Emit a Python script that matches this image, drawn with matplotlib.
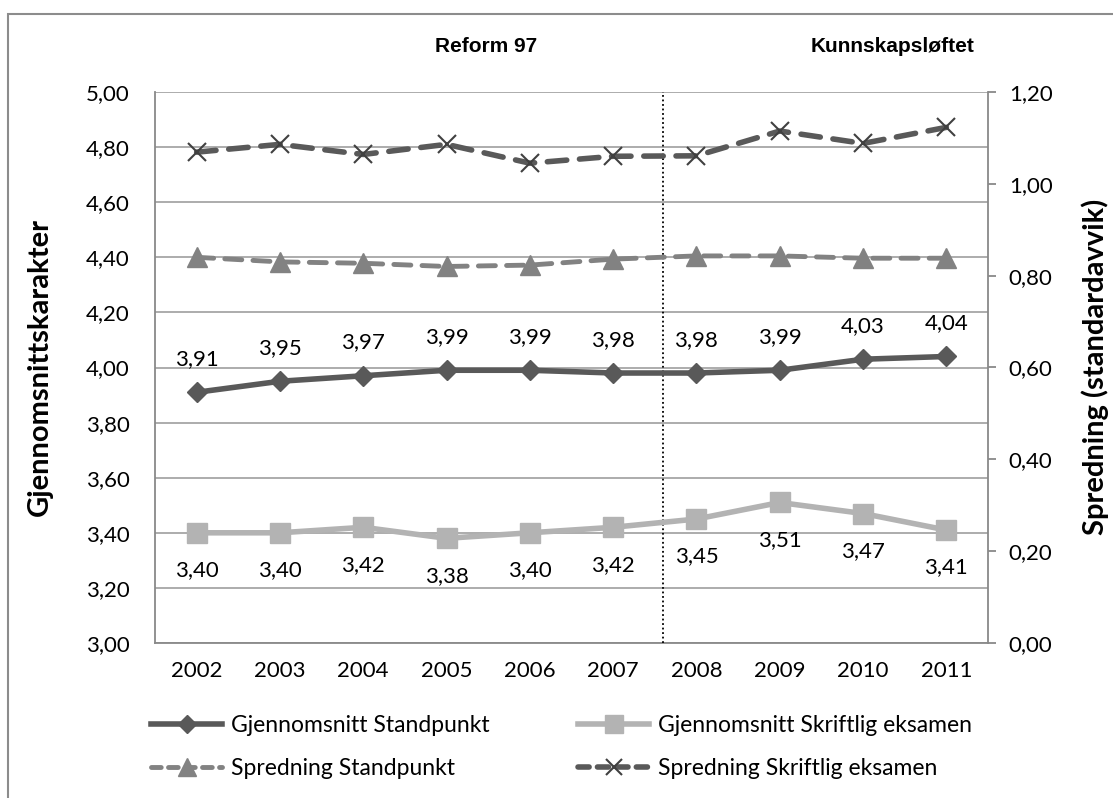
import matplotlib
matplotlib.use('Agg')
import matplotlib.pyplot as plt
from matplotlib.lines import Line2D
from matplotlib.patches import Rectangle
from matplotlib.ticker import FuncFormatter, MultipleLocator

# Data
years = ['2002', '2003', '2004', '2005', '2006', '2007', '2008', '2009', '2010', '2011']
snitt_standpunkt = [3.91, 3.95, 3.97, 3.99, 3.99, 3.98, 3.98, 3.99, 4.03, 4.04]
snitt_skriftlig = [3.40, 3.40, 3.42, 3.38, 3.40, 3.42, 3.45, 3.51, 3.47, 3.41]
spredning_standpunkt = [0.840, 0.830, 0.827, 0.820, 0.823, 0.836, 0.843, 0.843, 0.838, 0.838]
spredning_skriftlig = [1.069, 1.086, 1.064, 1.086, 1.045, 1.060, 1.061, 1.115, 1.088, 1.123]
reform_skille = 5.6  # dotted line between Reform 97 and Kunnskapsløftet

DARK = '#595959'
LIGHT = '#b3b3b3'
MID = '#828282'
GRID = '#a6a6a6'
AXIS = '#898989'
FONT = 'Lato'


def komma(v, pos):
    return f"{v:.2f}".replace('.', ',')


W, H = 1113, 798
fig = plt.figure(figsize=(W / 100, H / 100), dpi=100)
ax = fig.add_axes([155 / W, 1 - 643 / H, 833 / W, 551 / H])
ax2 = ax.twinx()

x = list(range(len(years)))

# Averages on the left axis
ax.plot(x, snitt_standpunkt, color=DARK, lw=4, marker='D', ms=10, zorder=4)
ax.plot(x, snitt_skriftlig, color=LIGHT, lw=4, marker='s', ms=14, zorder=4)

for xi, v in zip(x, snitt_standpunkt):
    ax.annotate(komma(v, None), (xi, v), xytext=(0, 24), textcoords='offset points',
                ha='center', va='center', fontsize=16, family=FONT, color='black')
for xi, v in zip(x, snitt_skriftlig):
    ax.annotate(komma(v, None), (xi, v), xytext=(0, -27), textcoords='offset points',
                ha='center', va='center', fontsize=16, family=FONT, color='black')

# Spread on the right axis
ax2.plot(x, spredning_standpunkt, color=MID, lw=3.5, ls=(0, (3.5, 2.3)),
         dash_capstyle='round', marker='^', ms=14, zorder=4)
ax2.plot(x, spredning_skriftlig, color=DARK, lw=4, ls=(0, (3.5, 2.3)),
         dash_capstyle='round', marker='x', ms=13, mew=1.5, mec='#404040', zorder=4)

ax.axvline(reform_skille, color='black', ls=(0, (1, 1.5)), lw=1.3, zorder=3)

ax.set_xlim(-0.5, len(years) - 0.5)
ax.set_ylim(3.0, 5.0)
ax2.set_ylim(0.0, 1.2)
ax.yaxis.set_major_locator(MultipleLocator(0.2))
ax2.yaxis.set_major_locator(MultipleLocator(0.2))
ax.yaxis.set_major_formatter(FuncFormatter(komma))
ax2.yaxis.set_major_formatter(FuncFormatter(komma))
ax.set_xticks(x)
ax.set_xticklabels(years)

ax.grid(axis='y', color=GRID, lw=1.3)
ax.set_axisbelow(True)

for a in (ax, ax2):
    for s in a.spines.values():
        s.set_color(AXIS)
        s.set_linewidth(1.3)
    a.spines['top'].set_visible(False)
ax.spines['right'].set_visible(False)
ax2.spines['left'].set_visible(False)
ax2.spines['bottom'].set_visible(False)

ax.tick_params(axis='y', length=0, pad=18, labelsize=16)
ax.tick_params(axis='x', length=0, pad=13, labelsize=16)
ax2.tick_params(axis='y', length=6, width=1.3, color=AXIS, pad=9, labelsize=16)
for lab in ax.get_xticklabels() + ax.get_yticklabels() + ax2.get_yticklabels():
    lab.set_family(FONT)

fig.text(40 / W, 1 - 367 / H, 'Gjennomsnittskarakter', rotation=90, ha='center', va='center',
         fontsize=21, fontweight='bold', family=FONT)
fig.text(1095 / W, 1 - 367 / H, 'Spredning (standardavvik)', rotation=90, ha='center',
         va='center', fontsize=21, fontweight='bold', family=FONT)

fig.text(486 / W, 1 - 47 / H, 'Reform 97', ha='center', va='center', fontsize=15,
         fontweight='bold', family='Liberation Sans')
fig.text(893 / W, 1 - 47 / H, 'Kunnskapsløftet', ha='center', va='center', fontsize=15,
         fontweight='bold', family='Liberation Sans')

# Legend, two columns
h1 = Line2D([], [], color=DARK, lw=4, marker='D', ms=9)
h2 = Line2D([], [], color=LIGHT, lw=4, marker='s', ms=13)
h3 = Line2D([], [], color=MID, lw=3.5, ls=(0, (2, 1.5)), dash_capstyle='round', marker='^', ms=13)
h4 = Line2D([], [], color=DARK, lw=4, ls=(0, (2, 1.5)), dash_capstyle='round',
            marker='x', ms=12, mew=1.5, mec='#404040')
leg_kw = dict(loc='center left', frameon=False, borderpad=0, borderaxespad=0,
              handlelength=3.1, handletextpad=0.4, labelspacing=1.0,
              prop={'family': FONT, 'size': 16.5})
fig.legend([h1, h3], ['Gjennomsnitt Standpunkt', 'Spredning Standpunkt'],
           bbox_to_anchor=(151 / W, 1 - 747 / H), **leg_kw)
fig.legend([h2, h4], ['Gjennomsnitt Skriftlig eksamen', 'Spredning Skriftlig eksamen'],
           bbox_to_anchor=(578 / W, 1 - 747 / H), **leg_kw)

# Outer frame (only left and top edges are visible in the crop)
fig.add_artist(Rectangle((8 / W, -0.1), 1.2, 1.1 - 14 / H, transform=fig.transFigure,
                         fill=False, edgecolor='#8c8c8c', lw=1.5))

fig.savefig('out.png', dpi=100)
